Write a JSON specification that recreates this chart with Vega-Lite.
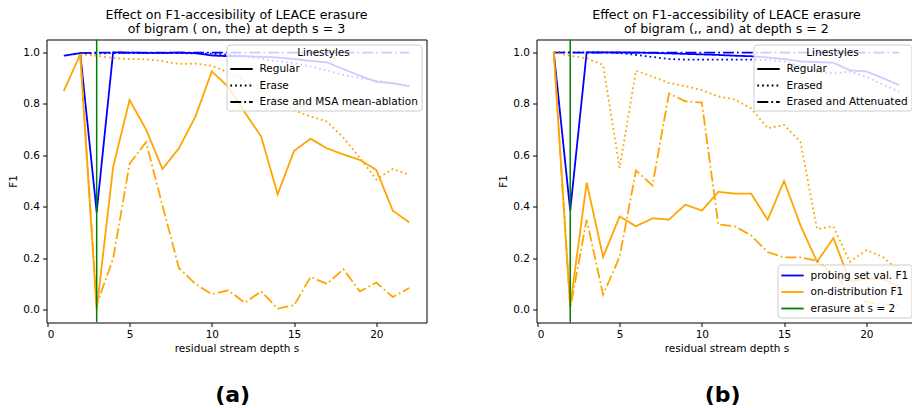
{
  "$schema": "https://vega.github.io/schema/vega-lite/v6.json",
  "padding": {"left": 7.5, "top": 8.5, "right": 0, "bottom": 0},
  "background": "white",
  "config": {
    "font": "DejaVu Sans",
    "view": {"stroke": "black", "strokeWidth": 1},
    "axis": {"grid": false, "domain": false, "tickColor": "black", "tickSize": 4, "tickWidth": 1, "labelFontSize": 10.5, "labelColor": "black", "labelFont": "DejaVu Sans", "titleFontSize": 10.5, "titleFontWeight": "normal", "titleColor": "black", "titleFont": "DejaVu Sans", "labelPadding": 3},
    "title": {"fontSize": 12.6, "fontWeight": "normal", "color": "black", "font": "DejaVu Sans", "lineHeight": 14},
    "legend": {"labelFontSize": 10.5, "labelColor": "black", "labelFont": "DejaVu Sans", "labelLimit": 400, "titleFontSize": 10.5, "titleFontWeight": "normal", "titleColor": "black", "titleFont": "DejaVu Sans", "fillColor": "rgba(255,255,255,0.8)", "strokeColor": "#cccccc", "cornerRadius": 3, "padding": 3, "offset": 5, "zindex": 1, "symbolType": "M-1.6,0L1.6,0", "symbolSize": 196, "symbolStrokeWidth": 1.8, "symbolOffset": 4, "labelOffset": 10, "rowPadding": 2.5, "titlePadding": 3, "titleAnchor": "middle"}
  },
  "datasets": {
    "left": [
      {"s":1,"f1":0.987,"metric":"probing set val. F1","style":"Regular"},
      {"s":2,"f1":0.997,"metric":"probing set val. F1","style":"Regular"},
      {"s":3,"f1":0.379,"metric":"probing set val. F1","style":"Regular"},
      {"s":4,"f1":1.0,"metric":"probing set val. F1","style":"Regular"},
      {"s":5,"f1":0.999,"metric":"probing set val. F1","style":"Regular"},
      {"s":6,"f1":0.998,"metric":"probing set val. F1","style":"Regular"},
      {"s":7,"f1":0.998,"metric":"probing set val. F1","style":"Regular"},
      {"s":8,"f1":0.999,"metric":"probing set val. F1","style":"Regular"},
      {"s":9,"f1":0.997,"metric":"probing set val. F1","style":"Regular"},
      {"s":10,"f1":0.988,"metric":"probing set val. F1","style":"Regular"},
      {"s":11,"f1":0.985,"metric":"probing set val. F1","style":"Regular"},
      {"s":12,"f1":0.985,"metric":"probing set val. F1","style":"Regular"},
      {"s":13,"f1":0.983,"metric":"probing set val. F1","style":"Regular"},
      {"s":14,"f1":0.98,"metric":"probing set val. F1","style":"Regular"},
      {"s":15,"f1":0.974,"metric":"probing set val. F1","style":"Regular"},
      {"s":16,"f1":0.967,"metric":"probing set val. F1","style":"Regular"},
      {"s":17,"f1":0.961,"metric":"probing set val. F1","style":"Regular"},
      {"s":18,"f1":0.935,"metric":"probing set val. F1","style":"Regular"},
      {"s":19,"f1":0.909,"metric":"probing set val. F1","style":"Regular"},
      {"s":20,"f1":0.886,"metric":"probing set val. F1","style":"Regular"},
      {"s":21,"f1":0.88,"metric":"probing set val. F1","style":"Regular"},
      {"s":22,"f1":0.868,"metric":"probing set val. F1","style":"Regular"},
      {"s":2,"f1":0.996,"metric":"probing set val. F1","style":"Erase"},
      {"s":3,"f1":0.996,"metric":"probing set val. F1","style":"Erase"},
      {"s":4,"f1":0.997,"metric":"probing set val. F1","style":"Erase"},
      {"s":5,"f1":0.997,"metric":"probing set val. F1","style":"Erase"},
      {"s":6,"f1":0.997,"metric":"probing set val. F1","style":"Erase"},
      {"s":7,"f1":0.997,"metric":"probing set val. F1","style":"Erase"},
      {"s":8,"f1":0.997,"metric":"probing set val. F1","style":"Erase"},
      {"s":9,"f1":0.996,"metric":"probing set val. F1","style":"Erase"},
      {"s":10,"f1":0.995,"metric":"probing set val. F1","style":"Erase"},
      {"s":11,"f1":0.99,"metric":"probing set val. F1","style":"Erase"},
      {"s":12,"f1":0.985,"metric":"probing set val. F1","style":"Erase"},
      {"s":13,"f1":0.975,"metric":"probing set val. F1","style":"Erase"},
      {"s":14,"f1":0.966,"metric":"probing set val. F1","style":"Erase"},
      {"s":15,"f1":0.958,"metric":"probing set val. F1","style":"Erase"},
      {"s":16,"f1":0.945,"metric":"probing set val. F1","style":"Erase"},
      {"s":17,"f1":0.93,"metric":"probing set val. F1","style":"Erase"},
      {"s":18,"f1":0.912,"metric":"probing set val. F1","style":"Erase"},
      {"s":19,"f1":0.9,"metric":"probing set val. F1","style":"Erase"},
      {"s":20,"f1":0.89,"metric":"probing set val. F1","style":"Erase"},
      {"s":21,"f1":0.88,"metric":"probing set val. F1","style":"Erase"},
      {"s":22,"f1":0.87,"metric":"probing set val. F1","style":"Erase"},
      {"s":2,"f1":0.997,"metric":"probing set val. F1","style":"Erase and MSA mean-ablation"},
      {"s":3,"f1":0.999,"metric":"probing set val. F1","style":"Erase and MSA mean-ablation"},
      {"s":4,"f1":0.999,"metric":"probing set val. F1","style":"Erase and MSA mean-ablation"},
      {"s":5,"f1":0.999,"metric":"probing set val. F1","style":"Erase and MSA mean-ablation"},
      {"s":6,"f1":0.999,"metric":"probing set val. F1","style":"Erase and MSA mean-ablation"},
      {"s":7,"f1":0.999,"metric":"probing set val. F1","style":"Erase and MSA mean-ablation"},
      {"s":8,"f1":0.999,"metric":"probing set val. F1","style":"Erase and MSA mean-ablation"},
      {"s":9,"f1":0.999,"metric":"probing set val. F1","style":"Erase and MSA mean-ablation"},
      {"s":10,"f1":0.999,"metric":"probing set val. F1","style":"Erase and MSA mean-ablation"},
      {"s":11,"f1":0.999,"metric":"probing set val. F1","style":"Erase and MSA mean-ablation"},
      {"s":12,"f1":0.999,"metric":"probing set val. F1","style":"Erase and MSA mean-ablation"},
      {"s":13,"f1":0.999,"metric":"probing set val. F1","style":"Erase and MSA mean-ablation"},
      {"s":14,"f1":0.999,"metric":"probing set val. F1","style":"Erase and MSA mean-ablation"},
      {"s":15,"f1":0.999,"metric":"probing set val. F1","style":"Erase and MSA mean-ablation"},
      {"s":16,"f1":0.999,"metric":"probing set val. F1","style":"Erase and MSA mean-ablation"},
      {"s":17,"f1":0.999,"metric":"probing set val. F1","style":"Erase and MSA mean-ablation"},
      {"s":18,"f1":0.999,"metric":"probing set val. F1","style":"Erase and MSA mean-ablation"},
      {"s":19,"f1":0.999,"metric":"probing set val. F1","style":"Erase and MSA mean-ablation"},
      {"s":20,"f1":0.999,"metric":"probing set val. F1","style":"Erase and MSA mean-ablation"},
      {"s":21,"f1":0.999,"metric":"probing set val. F1","style":"Erase and MSA mean-ablation"},
      {"s":22,"f1":0.999,"metric":"probing set val. F1","style":"Erase and MSA mean-ablation"},
      {"s":1,"f1":0.85,"metric":"on-distribution F1","style":"Regular"},
      {"s":2,"f1":0.992,"metric":"on-distribution F1","style":"Regular"},
      {"s":3,"f1":0.0,"metric":"on-distribution F1","style":"Regular"},
      {"s":4,"f1":0.554,"metric":"on-distribution F1","style":"Regular"},
      {"s":5,"f1":0.815,"metric":"on-distribution F1","style":"Regular"},
      {"s":6,"f1":0.7,"metric":"on-distribution F1","style":"Regular"},
      {"s":7,"f1":0.547,"metric":"on-distribution F1","style":"Regular"},
      {"s":8,"f1":0.627,"metric":"on-distribution F1","style":"Regular"},
      {"s":9,"f1":0.75,"metric":"on-distribution F1","style":"Regular"},
      {"s":10,"f1":0.926,"metric":"on-distribution F1","style":"Regular"},
      {"s":11,"f1":0.866,"metric":"on-distribution F1","style":"Regular"},
      {"s":12,"f1":0.767,"metric":"on-distribution F1","style":"Regular"},
      {"s":13,"f1":0.673,"metric":"on-distribution F1","style":"Regular"},
      {"s":14,"f1":0.448,"metric":"on-distribution F1","style":"Regular"},
      {"s":15,"f1":0.617,"metric":"on-distribution F1","style":"Regular"},
      {"s":16,"f1":0.664,"metric":"on-distribution F1","style":"Regular"},
      {"s":17,"f1":0.627,"metric":"on-distribution F1","style":"Regular"},
      {"s":18,"f1":0.603,"metric":"on-distribution F1","style":"Regular"},
      {"s":19,"f1":0.582,"metric":"on-distribution F1","style":"Regular"},
      {"s":20,"f1":0.543,"metric":"on-distribution F1","style":"Regular"},
      {"s":21,"f1":0.385,"metric":"on-distribution F1","style":"Regular"},
      {"s":22,"f1":0.339,"metric":"on-distribution F1","style":"Regular"},
      {"s":2,"f1":0.992,"metric":"on-distribution F1","style":"Erase"},
      {"s":3,"f1":0.987,"metric":"on-distribution F1","style":"Erase"},
      {"s":4,"f1":0.978,"metric":"on-distribution F1","style":"Erase"},
      {"s":5,"f1":0.974,"metric":"on-distribution F1","style":"Erase"},
      {"s":6,"f1":0.973,"metric":"on-distribution F1","style":"Erase"},
      {"s":7,"f1":0.966,"metric":"on-distribution F1","style":"Erase"},
      {"s":8,"f1":0.955,"metric":"on-distribution F1","style":"Erase"},
      {"s":9,"f1":0.956,"metric":"on-distribution F1","style":"Erase"},
      {"s":10,"f1":0.948,"metric":"on-distribution F1","style":"Erase"},
      {"s":11,"f1":0.922,"metric":"on-distribution F1","style":"Erase"},
      {"s":12,"f1":0.89,"metric":"on-distribution F1","style":"Erase"},
      {"s":13,"f1":0.85,"metric":"on-distribution F1","style":"Erase"},
      {"s":14,"f1":0.81,"metric":"on-distribution F1","style":"Erase"},
      {"s":15,"f1":0.775,"metric":"on-distribution F1","style":"Erase"},
      {"s":16,"f1":0.751,"metric":"on-distribution F1","style":"Erase"},
      {"s":17,"f1":0.731,"metric":"on-distribution F1","style":"Erase"},
      {"s":18,"f1":0.668,"metric":"on-distribution F1","style":"Erase"},
      {"s":19,"f1":0.59,"metric":"on-distribution F1","style":"Erase"},
      {"s":20,"f1":0.506,"metric":"on-distribution F1","style":"Erase"},
      {"s":21,"f1":0.547,"metric":"on-distribution F1","style":"Erase"},
      {"s":22,"f1":0.524,"metric":"on-distribution F1","style":"Erase"},
      {"s":2,"f1":0.992,"metric":"on-distribution F1","style":"Erase and MSA mean-ablation"},
      {"s":3,"f1":0.019,"metric":"on-distribution F1","style":"Erase and MSA mean-ablation"},
      {"s":4,"f1":0.198,"metric":"on-distribution F1","style":"Erase and MSA mean-ablation"},
      {"s":5,"f1":0.567,"metric":"on-distribution F1","style":"Erase and MSA mean-ablation"},
      {"s":6,"f1":0.651,"metric":"on-distribution F1","style":"Erase and MSA mean-ablation"},
      {"s":7,"f1":0.405,"metric":"on-distribution F1","style":"Erase and MSA mean-ablation"},
      {"s":8,"f1":0.162,"metric":"on-distribution F1","style":"Erase and MSA mean-ablation"},
      {"s":9,"f1":0.1,"metric":"on-distribution F1","style":"Erase and MSA mean-ablation"},
      {"s":10,"f1":0.06,"metric":"on-distribution F1","style":"Erase and MSA mean-ablation"},
      {"s":11,"f1":0.075,"metric":"on-distribution F1","style":"Erase and MSA mean-ablation"},
      {"s":12,"f1":0.027,"metric":"on-distribution F1","style":"Erase and MSA mean-ablation"},
      {"s":13,"f1":0.071,"metric":"on-distribution F1","style":"Erase and MSA mean-ablation"},
      {"s":14,"f1":0.004,"metric":"on-distribution F1","style":"Erase and MSA mean-ablation"},
      {"s":15,"f1":0.017,"metric":"on-distribution F1","style":"Erase and MSA mean-ablation"},
      {"s":16,"f1":0.127,"metric":"on-distribution F1","style":"Erase and MSA mean-ablation"},
      {"s":17,"f1":0.1,"metric":"on-distribution F1","style":"Erase and MSA mean-ablation"},
      {"s":18,"f1":0.157,"metric":"on-distribution F1","style":"Erase and MSA mean-ablation"},
      {"s":19,"f1":0.071,"metric":"on-distribution F1","style":"Erase and MSA mean-ablation"},
      {"s":20,"f1":0.105,"metric":"on-distribution F1","style":"Erase and MSA mean-ablation"},
      {"s":21,"f1":0.049,"metric":"on-distribution F1","style":"Erase and MSA mean-ablation"},
      {"s":22,"f1":0.084,"metric":"on-distribution F1","style":"Erase and MSA mean-ablation"}
    ],
    "leftRule": [{"s":3,"metric":"erasure at s = 3"}],
    "right": [
      {"s":1,"f1":1.0,"metric":"probing set val. F1","style":"Regular"},
      {"s":2,"f1":0.385,"metric":"probing set val. F1","style":"Regular"},
      {"s":3,"f1":1.0,"metric":"probing set val. F1","style":"Regular"},
      {"s":4,"f1":1.0,"metric":"probing set val. F1","style":"Regular"},
      {"s":5,"f1":1.0,"metric":"probing set val. F1","style":"Regular"},
      {"s":6,"f1":0.999,"metric":"probing set val. F1","style":"Regular"},
      {"s":7,"f1":0.998,"metric":"probing set val. F1","style":"Regular"},
      {"s":8,"f1":0.996,"metric":"probing set val. F1","style":"Regular"},
      {"s":9,"f1":0.994,"metric":"probing set val. F1","style":"Regular"},
      {"s":10,"f1":0.992,"metric":"probing set val. F1","style":"Regular"},
      {"s":11,"f1":0.99,"metric":"probing set val. F1","style":"Regular"},
      {"s":12,"f1":0.987,"metric":"probing set val. F1","style":"Regular"},
      {"s":13,"f1":0.985,"metric":"probing set val. F1","style":"Regular"},
      {"s":14,"f1":0.98,"metric":"probing set val. F1","style":"Regular"},
      {"s":15,"f1":0.974,"metric":"probing set val. F1","style":"Regular"},
      {"s":16,"f1":0.965,"metric":"probing set val. F1","style":"Regular"},
      {"s":17,"f1":0.962,"metric":"probing set val. F1","style":"Regular"},
      {"s":18,"f1":0.96,"metric":"probing set val. F1","style":"Regular"},
      {"s":19,"f1":0.93,"metric":"probing set val. F1","style":"Regular"},
      {"s":20,"f1":0.926,"metric":"probing set val. F1","style":"Regular"},
      {"s":21,"f1":0.9,"metric":"probing set val. F1","style":"Regular"},
      {"s":22,"f1":0.873,"metric":"probing set val. F1","style":"Regular"},
      {"s":1,"f1":1.0,"metric":"probing set val. F1","style":"Erased"},
      {"s":2,"f1":1.0,"metric":"probing set val. F1","style":"Erased"},
      {"s":3,"f1":1.0,"metric":"probing set val. F1","style":"Erased"},
      {"s":4,"f1":1.0,"metric":"probing set val. F1","style":"Erased"},
      {"s":5,"f1":0.998,"metric":"probing set val. F1","style":"Erased"},
      {"s":6,"f1":0.99,"metric":"probing set val. F1","style":"Erased"},
      {"s":7,"f1":0.982,"metric":"probing set val. F1","style":"Erased"},
      {"s":8,"f1":0.974,"metric":"probing set val. F1","style":"Erased"},
      {"s":9,"f1":0.972,"metric":"probing set val. F1","style":"Erased"},
      {"s":10,"f1":0.972,"metric":"probing set val. F1","style":"Erased"},
      {"s":11,"f1":0.972,"metric":"probing set val. F1","style":"Erased"},
      {"s":12,"f1":0.972,"metric":"probing set val. F1","style":"Erased"},
      {"s":13,"f1":0.972,"metric":"probing set val. F1","style":"Erased"},
      {"s":14,"f1":0.97,"metric":"probing set val. F1","style":"Erased"},
      {"s":15,"f1":0.965,"metric":"probing set val. F1","style":"Erased"},
      {"s":16,"f1":0.945,"metric":"probing set val. F1","style":"Erased"},
      {"s":17,"f1":0.925,"metric":"probing set val. F1","style":"Erased"},
      {"s":18,"f1":0.918,"metric":"probing set val. F1","style":"Erased"},
      {"s":19,"f1":0.925,"metric":"probing set val. F1","style":"Erased"},
      {"s":20,"f1":0.905,"metric":"probing set val. F1","style":"Erased"},
      {"s":21,"f1":0.875,"metric":"probing set val. F1","style":"Erased"},
      {"s":22,"f1":0.848,"metric":"probing set val. F1","style":"Erased"},
      {"s":1,"f1":0.999,"metric":"probing set val. F1","style":"Erased and Attenuated"},
      {"s":2,"f1":0.999,"metric":"probing set val. F1","style":"Erased and Attenuated"},
      {"s":3,"f1":0.999,"metric":"probing set val. F1","style":"Erased and Attenuated"},
      {"s":4,"f1":0.999,"metric":"probing set val. F1","style":"Erased and Attenuated"},
      {"s":5,"f1":0.999,"metric":"probing set val. F1","style":"Erased and Attenuated"},
      {"s":6,"f1":0.999,"metric":"probing set val. F1","style":"Erased and Attenuated"},
      {"s":7,"f1":0.999,"metric":"probing set val. F1","style":"Erased and Attenuated"},
      {"s":8,"f1":0.999,"metric":"probing set val. F1","style":"Erased and Attenuated"},
      {"s":9,"f1":0.999,"metric":"probing set val. F1","style":"Erased and Attenuated"},
      {"s":10,"f1":0.999,"metric":"probing set val. F1","style":"Erased and Attenuated"},
      {"s":11,"f1":0.999,"metric":"probing set val. F1","style":"Erased and Attenuated"},
      {"s":12,"f1":0.999,"metric":"probing set val. F1","style":"Erased and Attenuated"},
      {"s":13,"f1":0.999,"metric":"probing set val. F1","style":"Erased and Attenuated"},
      {"s":14,"f1":0.999,"metric":"probing set val. F1","style":"Erased and Attenuated"},
      {"s":15,"f1":0.999,"metric":"probing set val. F1","style":"Erased and Attenuated"},
      {"s":16,"f1":0.999,"metric":"probing set val. F1","style":"Erased and Attenuated"},
      {"s":17,"f1":0.999,"metric":"probing set val. F1","style":"Erased and Attenuated"},
      {"s":18,"f1":0.999,"metric":"probing set val. F1","style":"Erased and Attenuated"},
      {"s":19,"f1":0.999,"metric":"probing set val. F1","style":"Erased and Attenuated"},
      {"s":20,"f1":0.999,"metric":"probing set val. F1","style":"Erased and Attenuated"},
      {"s":21,"f1":0.999,"metric":"probing set val. F1","style":"Erased and Attenuated"},
      {"s":22,"f1":0.999,"metric":"probing set val. F1","style":"Erased and Attenuated"},
      {"s":1,"f1":1.0,"metric":"on-distribution F1","style":"Regular"},
      {"s":2,"f1":0.013,"metric":"on-distribution F1","style":"Regular"},
      {"s":3,"f1":0.494,"metric":"on-distribution F1","style":"Regular"},
      {"s":4,"f1":0.205,"metric":"on-distribution F1","style":"Regular"},
      {"s":5,"f1":0.362,"metric":"on-distribution F1","style":"Regular"},
      {"s":6,"f1":0.324,"metric":"on-distribution F1","style":"Regular"},
      {"s":7,"f1":0.355,"metric":"on-distribution F1","style":"Regular"},
      {"s":8,"f1":0.35,"metric":"on-distribution F1","style":"Regular"},
      {"s":9,"f1":0.408,"metric":"on-distribution F1","style":"Regular"},
      {"s":10,"f1":0.385,"metric":"on-distribution F1","style":"Regular"},
      {"s":11,"f1":0.458,"metric":"on-distribution F1","style":"Regular"},
      {"s":12,"f1":0.451,"metric":"on-distribution F1","style":"Regular"},
      {"s":13,"f1":0.451,"metric":"on-distribution F1","style":"Regular"},
      {"s":14,"f1":0.349,"metric":"on-distribution F1","style":"Regular"},
      {"s":15,"f1":0.5,"metric":"on-distribution F1","style":"Regular"},
      {"s":16,"f1":0.327,"metric":"on-distribution F1","style":"Regular"},
      {"s":17,"f1":0.186,"metric":"on-distribution F1","style":"Regular"},
      {"s":18,"f1":0.278,"metric":"on-distribution F1","style":"Regular"},
      {"s":19,"f1":0.11,"metric":"on-distribution F1","style":"Regular"},
      {"s":20,"f1":0.12,"metric":"on-distribution F1","style":"Regular"},
      {"s":21,"f1":0.12,"metric":"on-distribution F1","style":"Regular"},
      {"s":22,"f1":0.09,"metric":"on-distribution F1","style":"Regular"},
      {"s":1,"f1":1.0,"metric":"on-distribution F1","style":"Erased"},
      {"s":2,"f1":0.987,"metric":"on-distribution F1","style":"Erased"},
      {"s":3,"f1":0.977,"metric":"on-distribution F1","style":"Erased"},
      {"s":4,"f1":0.951,"metric":"on-distribution F1","style":"Erased"},
      {"s":5,"f1":0.551,"metric":"on-distribution F1","style":"Erased"},
      {"s":6,"f1":0.929,"metric":"on-distribution F1","style":"Erased"},
      {"s":7,"f1":0.906,"metric":"on-distribution F1","style":"Erased"},
      {"s":8,"f1":0.881,"metric":"on-distribution F1","style":"Erased"},
      {"s":9,"f1":0.869,"metric":"on-distribution F1","style":"Erased"},
      {"s":10,"f1":0.853,"metric":"on-distribution F1","style":"Erased"},
      {"s":11,"f1":0.829,"metric":"on-distribution F1","style":"Erased"},
      {"s":12,"f1":0.817,"metric":"on-distribution F1","style":"Erased"},
      {"s":13,"f1":0.782,"metric":"on-distribution F1","style":"Erased"},
      {"s":14,"f1":0.705,"metric":"on-distribution F1","style":"Erased"},
      {"s":15,"f1":0.718,"metric":"on-distribution F1","style":"Erased"},
      {"s":16,"f1":0.651,"metric":"on-distribution F1","style":"Erased"},
      {"s":17,"f1":0.314,"metric":"on-distribution F1","style":"Erased"},
      {"s":18,"f1":0.323,"metric":"on-distribution F1","style":"Erased"},
      {"s":19,"f1":0.186,"metric":"on-distribution F1","style":"Erased"},
      {"s":20,"f1":0.231,"metric":"on-distribution F1","style":"Erased"},
      {"s":21,"f1":0.205,"metric":"on-distribution F1","style":"Erased"},
      {"s":22,"f1":0.15,"metric":"on-distribution F1","style":"Erased"},
      {"s":1,"f1":1.0,"metric":"on-distribution F1","style":"Erased and Attenuated"},
      {"s":2,"f1":0.006,"metric":"on-distribution F1","style":"Erased and Attenuated"},
      {"s":3,"f1":0.349,"metric":"on-distribution F1","style":"Erased and Attenuated"},
      {"s":4,"f1":0.058,"metric":"on-distribution F1","style":"Erased and Attenuated"},
      {"s":5,"f1":0.205,"metric":"on-distribution F1","style":"Erased and Attenuated"},
      {"s":6,"f1":0.541,"metric":"on-distribution F1","style":"Erased and Attenuated"},
      {"s":7,"f1":0.483,"metric":"on-distribution F1","style":"Erased and Attenuated"},
      {"s":8,"f1":0.84,"metric":"on-distribution F1","style":"Erased and Attenuated"},
      {"s":9,"f1":0.81,"metric":"on-distribution F1","style":"Erased and Attenuated"},
      {"s":10,"f1":0.805,"metric":"on-distribution F1","style":"Erased and Attenuated"},
      {"s":11,"f1":0.331,"metric":"on-distribution F1","style":"Erased and Attenuated"},
      {"s":12,"f1":0.324,"metric":"on-distribution F1","style":"Erased and Attenuated"},
      {"s":13,"f1":0.288,"metric":"on-distribution F1","style":"Erased and Attenuated"},
      {"s":14,"f1":0.224,"metric":"on-distribution F1","style":"Erased and Attenuated"},
      {"s":15,"f1":0.203,"metric":"on-distribution F1","style":"Erased and Attenuated"},
      {"s":16,"f1":0.203,"metric":"on-distribution F1","style":"Erased and Attenuated"},
      {"s":17,"f1":0.19,"metric":"on-distribution F1","style":"Erased and Attenuated"},
      {"s":18,"f1":0.14,"metric":"on-distribution F1","style":"Erased and Attenuated"},
      {"s":19,"f1":0.07,"metric":"on-distribution F1","style":"Erased and Attenuated"},
      {"s":20,"f1":0.03,"metric":"on-distribution F1","style":"Erased and Attenuated"},
      {"s":21,"f1":0.02,"metric":"on-distribution F1","style":"Erased and Attenuated"},
      {"s":22,"f1":0.02,"metric":"on-distribution F1","style":"Erased and Attenuated"}
    ],
    "rightRule": [{"s":2,"metric":"erasure at s = 2"}]
  },
  "spacing": 70,
  "resolve": {"scale": {"color": "independent", "strokeDash": "independent"}},
  "hconcat": [
    {
      "title": {"text": "(a)", "orient": "bottom", "fontSize": 22, "fontWeight": "bold", "anchor": "middle", "offset": 31, "dx": 15},
      "resolve": {"scale": {"color": "independent", "strokeDash": "independent"}},
      "vconcat": [
        {
          "width": 380,
          "height": 283,
          "title": {"text": ["Effect on F1-accesibility of LEACE erasure", "of bigram ( on, the) at depth s = 3"], "offset": 3, "anchor": "middle"},
          "layer": [
            {
              "data": {"name": "left"},
              "mark": {"type": "line", "strokeWidth": 1.8},
              "encoding": {
                "x": {"field": "s", "type": "quantitative", "scale": {"domain": [-0.05, 23.05], "nice": false, "zero": false}, "axis": {"values": [0, 5, 10, 15, 20], "title": "residual stream depth s", "titlePadding": 3}},
                "y": {"field": "f1", "type": "quantitative", "scale": {"domain": [-0.05, 1.05], "nice": false, "zero": false}, "axis": {"values": [0, 0.2, 0.4, 0.6, 0.8, 1.0], "format": ".1f", "title": "F1", "titlePadding": 4}},
                "color": {"field": "metric", "type": "nominal", "scale": {"domain": ["probing set val. F1", "on-distribution F1", "erasure at s = 3"], "range": ["#0000ff", "#ffa500", "#008000"]}, "legend": null},
                "strokeDash": {"field": "style", "type": "nominal", "scale": {"domain": ["Regular", "Erase", "Erase and MSA mean-ablation"], "range": [[1, 0], [1.8, 3], [11, 3, 1.8, 3]]}, "legend": {"title": "Linestyles", "orient": "top-right", "symbolStrokeColor": "black"}}
              }
            },
            {
              "data": {"name": "leftRule"},
              "mark": {"type": "rule", "strokeWidth": 1.5},
              "encoding": {
                "x": {"field": "s", "type": "quantitative"},
                "color": {"field": "metric", "type": "nominal"}
              }
            }
          ]
        }
      ]
    },
    {
      "title": {"text": "(b)", "orient": "bottom", "fontSize": 22, "fontWeight": "bold", "anchor": "middle", "offset": 31, "dx": 15},
      "resolve": {"scale": {"color": "independent", "strokeDash": "independent"}},
      "vconcat": [
        {
          "width": 380,
          "height": 283,
          "title": {"text": ["Effect on F1-accessibility of LEACE erasure", "of bigram (,, and) at depth s = 2"], "offset": 3, "anchor": "middle"},
          "layer": [
            {
              "data": {"name": "right"},
              "mark": {"type": "line", "strokeWidth": 1.8},
              "encoding": {
                "x": {"field": "s", "type": "quantitative", "scale": {"domain": [-0.05, 23.05], "nice": false, "zero": false}, "axis": {"values": [0, 5, 10, 15, 20], "title": "residual stream depth s", "titlePadding": 3}},
                "y": {"field": "f1", "type": "quantitative", "scale": {"domain": [-0.05, 1.05], "nice": false, "zero": false}, "axis": {"values": [0, 0.2, 0.4, 0.6, 0.8, 1.0], "format": ".1f", "title": "F1", "titlePadding": 4}},
                "color": {"field": "metric", "type": "nominal", "scale": {"domain": ["probing set val. F1", "on-distribution F1", "erasure at s = 2"], "range": ["#0000ff", "#ffa500", "#008000"]}, "legend": {"title": null, "orient": "bottom-right"}},
                "strokeDash": {"field": "style", "type": "nominal", "scale": {"domain": ["Regular", "Erased", "Erased and Attenuated"], "range": [[1, 0], [1.8, 3], [11, 3, 1.8, 3]]}, "legend": {"title": "Linestyles", "orient": "top-right", "symbolStrokeColor": "black"}}
              }
            },
            {
              "data": {"name": "rightRule"},
              "mark": {"type": "rule", "strokeWidth": 1.5},
              "encoding": {
                "x": {"field": "s", "type": "quantitative"},
                "color": {"field": "metric", "type": "nominal"}
              }
            }
          ]
        }
      ]
    }
  ]
}
